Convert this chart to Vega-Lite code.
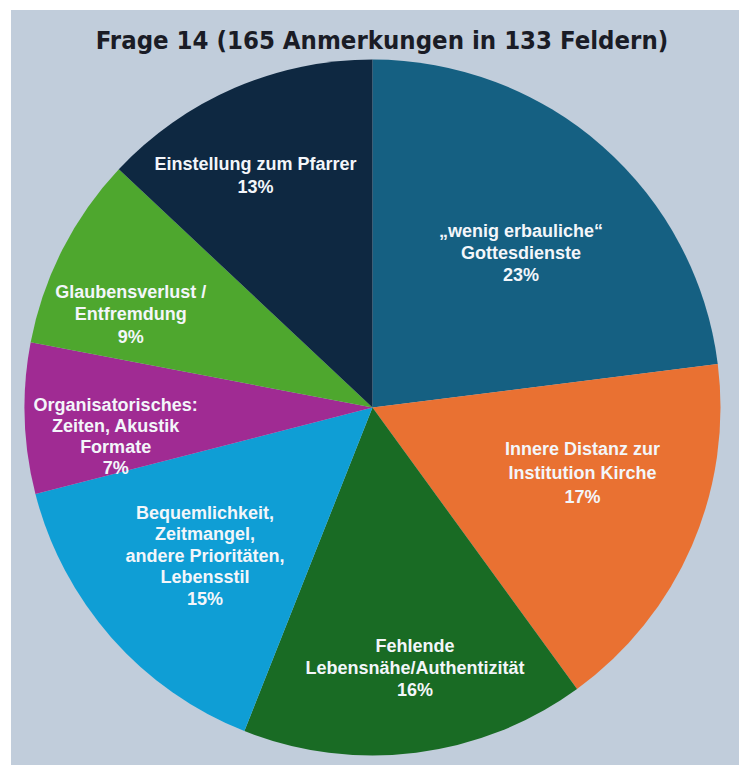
{
  "$schema": "https://vega.github.io/schema/vega-lite/v6.json",
  "width": 739,
  "height": 765,
  "autosize": {"type": "fit", "contains": "padding"},
  "padding": {"left": 11, "top": 10, "right": 0, "bottom": 0},
  "background": "white",
  "config": {"view": {"stroke": null}},
  "title": {
    "text": "Frage 14 (165 Anmerkungen in 133 Feldern)",
    "font": "DejaVu Sans Condensed, Liberation Sans, sans-serif",
    "fontSize": 25.5,
    "fontWeight": "bold",
    "color": "#1a1c26",
    "anchor": "middle",
    "frame": "group",
    "offset": -64,
    "baseline": "alphabetic",
    "dx": 7
  },
  "datasets": {
    "slices": [
      {"rank": 1, "category": "wenig erbauliche Gottesdienste", "pct": 23, "label": "„wenig erbauliche“\nGottesdienste\n23%"},
      {"rank": 2, "category": "Innere Distanz zur Institution Kirche", "pct": 17, "label": "Innere Distanz zur\nInstitution Kirche\n17%"},
      {"rank": 3, "category": "Fehlende Lebensnähe/Authentizität", "pct": 16, "label": "Fehlende\nLebensnähe/Authentizität\n16%"},
      {"rank": 4, "category": "Bequemlichkeit, Zeitmangel, andere Prioritäten, Lebensstil", "pct": 15, "label": "Bequemlichkeit,\nZeitmangel,\nandere Prioritäten,\nLebensstil\n15%"},
      {"rank": 5, "category": "Organisatorisches: Zeiten, Akustik Formate", "pct": 7, "label": "Organisatorisches:\nZeiten, Akustik\nFormate\n7%"},
      {"rank": 6, "category": "Glaubensverlust / Entfremdung", "pct": 9, "label": "Glaubensverlust /\nEntfremdung\n9%"},
      {"rank": 7, "category": "Einstellung zum Pfarrer", "pct": 13, "label": "Einstellung zum Pfarrer\n13%"}
    ],
    "panel": [{"name": "background"}]
  },
  "data": {"name": "slices"},
  "layer": [
    {
      "data": {"name": "panel"},
      "mark": {"type": "rect", "color": "#c1cddb"},
      "encoding": {}
    },
    {
      "mark": {"type": "arc", "outerRadius": 348, "xOffset": -2.5, "yOffset": 20},
      "encoding": {
        "theta": {"field": "pct", "type": "quantitative", "stack": true},
        "order": {"field": "rank", "type": "quantitative"},
        "color": {
          "field": "category",
          "type": "nominal",
          "legend": null,
          "scale": {
            "domain": [
              "wenig erbauliche Gottesdienste",
              "Innere Distanz zur Institution Kirche",
              "Fehlende Lebensnähe/Authentizität",
              "Bequemlichkeit, Zeitmangel, andere Prioritäten, Lebensstil",
              "Organisatorisches: Zeiten, Akustik Formate",
              "Glaubensverlust / Entfremdung",
              "Einstellung zum Pfarrer"
            ],
            "range": ["#156082", "#e97132", "#196b24", "#0f9ed5", "#a02b93", "#4ea72e", "#0e2841"]
          }
        }
      }
    },
    {
      "mark": {"type": "text", "font": "Liberation Sans", "fontSize": 18, "fontWeight": "bold", "lineBreak": "\n", "lineHeight": 22, "align": "center", "baseline": "middle", "radius": 214, "xOffset": 4.5, "yOffset": 5.5},
      "encoding": {
        "theta": {"field": "pct", "type": "quantitative", "stack": true},
        "order": {"field": "rank", "type": "quantitative"},
        "text": {"condition": {"test": "datum.rank == 1", "field": "label"}, "value": ""},
        "color": {"value": "#f3f6fa"}
      }
    },
    {
      "mark": {"type": "text", "font": "Liberation Sans", "fontSize": 18, "fontWeight": "bold", "lineBreak": "\n", "lineHeight": 24, "align": "center", "baseline": "middle", "radius": 219, "xOffset": 6.5, "yOffset": -24},
      "encoding": {
        "theta": {"field": "pct", "type": "quantitative", "stack": true},
        "order": {"field": "rank", "type": "quantitative"},
        "text": {"condition": {"test": "datum.rank == 2", "field": "label"}, "value": ""},
        "color": {"value": "#f3f6fa"}
      }
    },
    {
      "mark": {"type": "text", "font": "Liberation Sans", "fontSize": 18, "fontWeight": "bold", "lineBreak": "\n", "lineHeight": 22, "align": "center", "baseline": "middle", "radius": 267, "xOffset": 6.5, "yOffset": -5},
      "encoding": {
        "theta": {"field": "pct", "type": "quantitative", "stack": true},
        "order": {"field": "rank", "type": "quantitative"},
        "text": {"condition": {"test": "datum.rank == 3", "field": "label"}, "value": ""},
        "color": {"value": "#f3f6fa"}
      }
    },
    {
      "mark": {"type": "text", "font": "Liberation Sans", "fontSize": 18, "fontWeight": "bold", "lineBreak": "\n", "lineHeight": 21.5, "align": "center", "baseline": "middle", "radius": 230, "xOffset": 2.5, "yOffset": -26},
      "encoding": {
        "theta": {"field": "pct", "type": "quantitative", "stack": true},
        "order": {"field": "rank", "type": "quantitative"},
        "text": {"condition": {"test": "datum.rank == 4", "field": "label"}, "value": ""},
        "color": {"value": "#f3f6fa"}
      }
    },
    {
      "mark": {"type": "text", "font": "Liberation Sans", "fontSize": 18, "fontWeight": "bold", "lineBreak": "\n", "lineHeight": 21, "align": "center", "baseline": "middle", "radius": 258, "xOffset": -1.5, "yOffset": 10},
      "encoding": {
        "theta": {"field": "pct", "type": "quantitative", "stack": true},
        "order": {"field": "rank", "type": "quantitative"},
        "text": {"condition": {"test": "datum.rank == 5", "field": "label"}, "value": ""},
        "color": {"value": "#f3f6fa"}
      }
    },
    {
      "mark": {"type": "text", "font": "Liberation Sans", "fontSize": 18, "fontWeight": "bold", "lineBreak": "\n", "lineHeight": 22.5, "align": "center", "baseline": "middle", "radius": 259, "xOffset": -13.5, "yOffset": 23},
      "encoding": {
        "theta": {"field": "pct", "type": "quantitative", "stack": true},
        "order": {"field": "rank", "type": "quantitative"},
        "text": {"condition": {"test": "datum.rank == 6", "field": "label"}, "value": ""},
        "color": {"value": "#f3f6fa"}
      }
    },
    {
      "mark": {"type": "text", "font": "Liberation Sans", "fontSize": 18, "fontWeight": "bold", "lineBreak": "\n", "lineHeight": 23, "align": "center", "baseline": "middle", "radius": 262, "xOffset": -15.5, "yOffset": 18},
      "encoding": {
        "theta": {"field": "pct", "type": "quantitative", "stack": true},
        "order": {"field": "rank", "type": "quantitative"},
        "text": {"condition": {"test": "datum.rank == 7", "field": "label"}, "value": ""},
        "color": {"value": "#f3f6fa"}
      }
    }
  ]
}
